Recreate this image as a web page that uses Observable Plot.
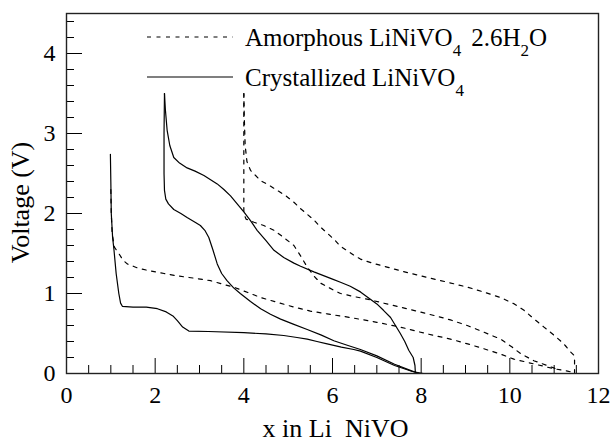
<!DOCTYPE html>
<html><head><meta charset="utf-8">
<script src="https://cdn.jsdelivr.net/npm/d3@7"></script>
<script src="https://cdn.jsdelivr.net/npm/@observablehq/plot@0.6"></script>
<style>body{margin:0;background:#fff} svg{display:block}</style>
</head><body><div id="chart"></div>
<script>
// ---- data (x in LixNiVO4, voltage V) ----
const crysDischarge1 = [
  [0.99,2.74],[1.0,2.4],[1.01,2.0],[1.04,1.7],[1.07,1.55],[1.12,1.25],[1.18,1.0],[1.22,0.88],[1.26,0.84],
  [1.5,0.83],[1.8,0.83],[2.05,0.81],[2.25,0.77],[2.4,0.72],[2.5,0.66],[2.62,0.58],[2.76,0.53],[3.2,0.525],
  [4.0,0.51],[4.5,0.495],[4.9,0.475],[5.2,0.45],[5.43,0.43],[5.65,0.40],[5.88,0.37],[6.2,0.33],[6.48,0.30],
  [6.63,0.28],[7.0,0.20],[7.4,0.10],[7.8,0.025],[8.05,0.0]
];
const crysCharge = [
  [7.87,0.0],[7.86,0.1],[7.82,0.2],[7.72,0.29],[7.63,0.4],[7.53,0.50],[7.42,0.6],[7.31,0.70],[7.15,0.79],
  [7.0,0.87],[6.8,0.95],[6.63,1.02],[6.4,1.09],[6.18,1.14],[6.0,1.18],[5.58,1.27],[5.28,1.34],[5.13,1.38],
  [4.9,1.45],[4.68,1.54],[4.5,1.66],[4.3,1.79],[4.15,1.91],[4.0,2.02],[3.85,2.12],[3.7,2.22],[3.55,2.30],
  [3.4,2.37],[3.1,2.475],[2.9,2.53],[2.72,2.57],[2.55,2.63],[2.42,2.70],[2.33,2.85],[2.27,3.04],[2.23,3.3],[2.21,3.5]
];
const crysDischarge2 = [
  [2.21,3.5],[2.2,3.0],[2.2,2.5],[2.21,2.29],[2.24,2.18],[2.3,2.12],[2.42,2.05],[2.58,2.0],[2.72,1.95],
  [2.9,1.89],[3.02,1.85],[3.12,1.79],[3.21,1.70],[3.3,1.55],[3.4,1.37],[3.5,1.25],[3.62,1.16],[3.77,1.07],
  [3.92,1.0],[4.15,0.9],[4.38,0.81],[4.6,0.74],[4.83,0.68],[5.1,0.62],[5.43,0.55],[5.75,0.48],[6.03,0.41],
  [6.35,0.35],[6.63,0.30],[7.0,0.22],[7.4,0.115],[7.8,0.03],[7.95,0.0]
];
const amorDischarge1 = [
  [1.0,2.3],[1.01,2.0],[1.03,1.75],[1.08,1.58],[1.18,1.5],[1.27,1.42],[1.37,1.37],[1.6,1.32],[1.82,1.29],
  [2.2,1.25],[2.5,1.22],[2.9,1.19],[3.25,1.16],[3.5,1.12],[3.77,1.08],[4.1,1.01],[4.38,0.95],[4.75,0.89],
  [5.13,0.83],[5.5,0.78],[5.88,0.745],[6.4,0.70],[7.0,0.64],[7.53,0.58],[8.1,0.50],[8.66,0.43],[9.05,0.37],
  [9.41,0.31],[9.8,0.24],[10.09,0.18],[10.54,0.12],[10.99,0.06],[11.3,0.03],[11.46,0.01]
];
const amorCharge = [
  [11.46,0.0],[11.46,0.22],[11.37,0.27],[11.25,0.35],[11.14,0.41],[10.95,0.5],[10.77,0.58],[10.55,0.68],
  [10.32,0.79],[10.1,0.87],[9.79,0.95],[9.4,1.02],[9.04,1.08],[8.6,1.14],[8.14,1.20],[7.7,1.26],[7.23,1.33],
  [6.9,1.38],[6.63,1.43],[6.48,1.48],[6.18,1.59],[6.03,1.68],[5.73,1.83],[5.58,1.92],[5.28,2.06],[5.13,2.14],
  [4.95,2.22],[4.75,2.29],[4.55,2.36],[4.38,2.41],[4.15,2.54],[4.07,2.65],[4.03,2.85],[4.01,3.2],[4.0,3.5]
];
const amorDischarge2 = [
  [4.0,3.5],[4.0,3.0],[4.0,2.5],[4.0,2.0],[4.05,1.93],[4.23,1.89],[4.45,1.85],[4.68,1.79],[4.9,1.70],
  [5.13,1.6],[5.28,1.47],[5.43,1.33],[5.58,1.22],[5.73,1.13],[6.03,1.04],[6.18,1.0],[6.5,0.96],[6.78,0.93],
  [7.15,0.88],[7.53,0.83],[7.9,0.78],[8.29,0.725],[8.66,0.67],[9.04,0.60],[9.4,0.52],[9.79,0.43],[10.05,0.33],
  [10.24,0.25],[10.54,0.16],[10.99,0.07],[11.1,0.04]
];
const xMajorTicks = [0,2,4,6,8,10,12];
const xMinorTicks = [0.5,1,1.5,2.5,3,3.5,4.5,5,5.5,6.5,7,7.5,8.5,9,9.5,10.5,11,11.5];
const yMajorTicks = [0,1,2,3,4];
const yMinorTicks = [0.2,0.4,0.6,0.8,1.2,1.4,1.6,1.8,2.2,2.4,2.6,2.8,3.2,3.4,3.6,3.8,4.2,4.4];
const xTitle = "x in Li\u00a0\u00a0NiVO";
const yTitle = "Voltage (V)";

// ---- chart ----
const FONT = "Liberation Serif";
const W = 611, H = 441, mL = 66, mR = 13, mT = 13, mB = 68;
const fw = W - mL - mR, fh = H - mT - mB;
const dash = "4,5.5";
const lineOpts = {x: d => d[0], y: d => d[1], stroke: "#000", strokeWidth: 1.2, curve: "linear"};

const plot = Plot.plot({
  width: W, height: H,
  marginLeft: mL, marginRight: mR, marginTop: mT, marginBottom: mB,
  style: {fontSize: "24px", background: "#fff", color: "#000"},
  x: {domain: [0, 12]},
  y: {domain: [0, 4.5]},
  marks: [
    Plot.line(amorDischarge1, {...lineOpts, strokeDasharray: dash}),
    Plot.line(amorCharge, {...lineOpts, strokeDasharray: dash}),
    Plot.line(amorDischarge2, {...lineOpts, strokeDasharray: dash}),
    Plot.line(crysDischarge1, lineOpts),
    Plot.line(crysCharge, lineOpts),
    Plot.line(crysDischarge2, lineOpts),
    Plot.tickX(xMajorTicks, {x: d => d, insetTop: fh - 15, stroke: "#000", strokeWidth: 1}),
    Plot.tickX(xMinorTicks, {x: d => d, insetTop: fh - 8, stroke: "#000", strokeWidth: 1}),
    Plot.tickY(yMajorTicks, {y: d => d, insetRight: fw - 16, stroke: "#000", strokeWidth: 1}),
    Plot.tickY(yMinorTicks, {y: d => d, insetRight: fw - 8, stroke: "#000", strokeWidth: 1}),
    Plot.frame({stroke: "#222", strokeWidth: 1.4}),
    Plot.axisX(xMajorTicks, {tickSize: 0, tickPadding: 12, fontSize: 24, fontFamily: FONT, label: null, tickFormat: d => String(d)}),
    Plot.axisY(yMajorTicks, {tickSize: 0, tickPadding: 11, fontSize: 24, fontFamily: FONT, label: null, tickFormat: d => String(d)}),
    Plot.text([xTitle], {frameAnchor: "bottom", text: d => d, dy: 63, lineAnchor: "bottom", fontSize: 26, fontFamily: FONT, dx: 3}),
    Plot.text([yTitle], {frameAnchor: "left", text: d => d, rotate: -90, dx: -46, dy: 9, fontSize: 26, fontFamily: FONT, textAnchor: "middle", lineAnchor: "middle"})
  ]
});
plot.setAttribute("font-family", FONT);
document.getElementById("chart").appendChild(plot);

// ---- legend (inside frame, top) ----
const svg = d3.select(plot);
const lg = svg.append("g").attr("font-family", FONT).attr("font-size", 25)
  .attr("fill", "#000").attr("text-anchor", "start");
lg.append("line").attr("x1", 147).attr("x2", 233).attr("y1", 37).attr("y2", 37)
  .attr("stroke", "#000").attr("stroke-width", 1.2).attr("stroke-dasharray", dash);
lg.append("line").attr("x1", 147).attr("x2", 233).attr("y1", 77).attr("y2", 77)
  .attr("stroke", "#000").attr("stroke-width", 1.2);
const t1 = lg.append("text").attr("x", 245).attr("y", 46);
t1.append("tspan").text("Amorphous LiNiVO");
t1.append("tspan").attr("font-size", 17).attr("dy", 10).text("4");
t1.append("tspan").attr("dy", -10).attr("dx", 10).text("2.6H");
t1.append("tspan").attr("font-size", 17).attr("dy", 10).text("2");
t1.append("tspan").attr("dy", -10).text("O");
const t2 = lg.append("text").attr("x", 245).attr("y", 86);
t2.append("tspan").text("Crystallized LiNiVO");
t2.append("tspan").attr("font-size", 17).attr("dy", 10).text("4");
</script>
</body></html>
